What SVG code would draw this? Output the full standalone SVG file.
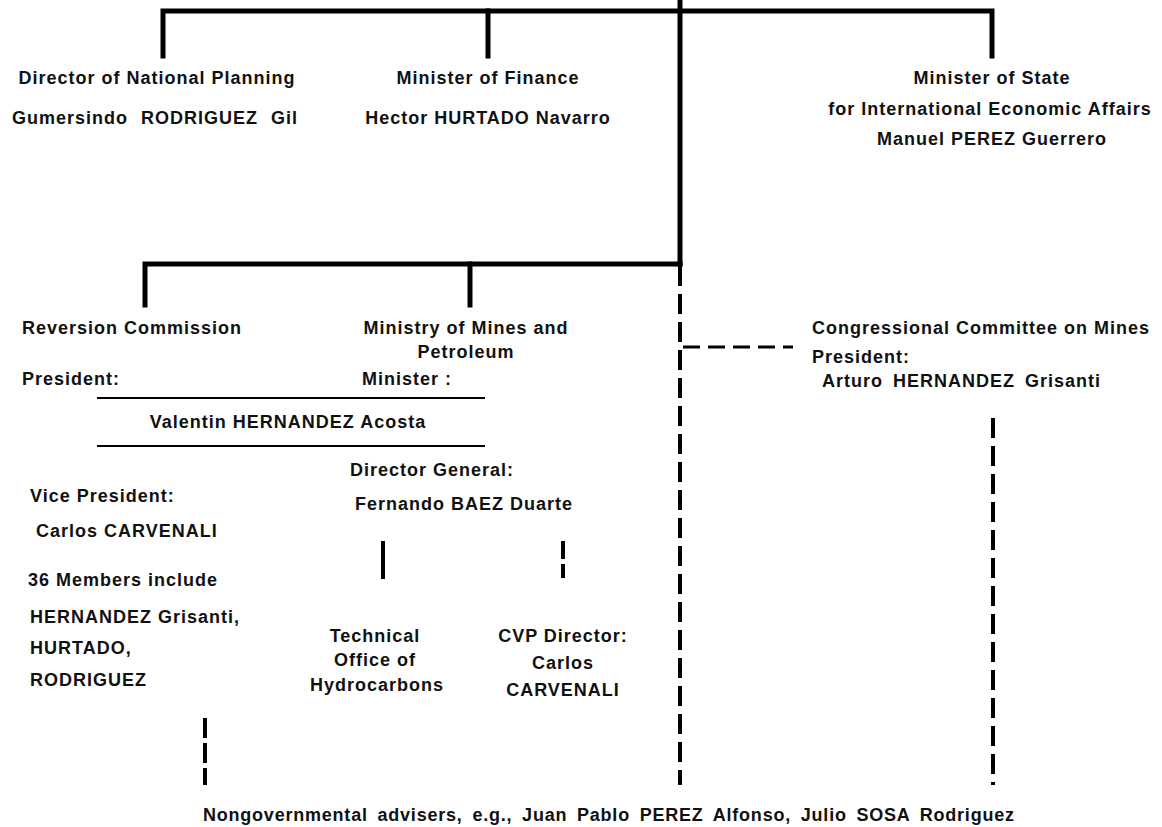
<svg xmlns="http://www.w3.org/2000/svg" width="1162" height="827" viewBox="0 0 1162 827">
  <style>
    text { font-family: "Liberation Sans", Arial, sans-serif; font-size: 18px; font-weight: bold; fill: #111; letter-spacing: 1px; }
    .m { text-anchor: middle; }
    .solid { stroke: #000; stroke-width: 5; fill: none; stroke-linecap: square; }
    .thin { stroke: #000; stroke-width: 2; fill: none; }
    .dash { stroke: #000; stroke-width: 4; fill: none; stroke-dasharray: 20 8; }
    .dashh { stroke: #000; stroke-width: 3; fill: none; stroke-dasharray: 17 8; }
  </style>
  <rect width="1162" height="827" fill="#fff"/>

  <g id="connectors">
    <!-- top bracket -->
    <path class="solid" d="M163 56 V11 H992 V56"/>
    <path class="solid" d="M488 11 V56"/>
    <path class="solid" d="M680 0 V264"/>
    <!-- second bracket -->
    <path class="solid" d="M145 305 V264 H680"/>
    <path class="solid" d="M470 264 V305"/>
    <!-- dashed links -->
    <path class="dash" d="M680 266 V785"/>
    <path class="dashh" d="M683 347 H793"/>
    <path class="dash" d="M993 418 V785"/>
    <path class="dash" d="M205 718 V785" style="stroke-dasharray:20 5"/>
    <!-- under Director General -->
    <path class="solid" d="M383 543 V577" style="stroke-width:4"/>
    <path class="dash" d="M563 541 V578" style="stroke-dasharray:18 5"/>
    <!-- rules around shared president -->
    <path class="thin" d="M97 398 H485"/>
    <path class="thin" d="M97 446 H485"/>
  </g>

  <g id="national-planning">
    <text x="157" y="84" class="m">Director of National Planning</text>
    <text x="155" y="124" class="m" style="word-spacing:7px">Gumersindo RODRIGUEZ Gil</text>
  </g>
  <g id="finance">
    <text x="488" y="84" class="m">Minister of Finance</text>
    <text x="488" y="124" class="m">Hector HURTADO Navarro</text>
  </g>
  <g id="state-international">
    <text x="992" y="84" class="m">Minister of State</text>
    <text x="990" y="115" class="m">for International Economic Affairs</text>
    <text x="992" y="145" class="m">Manuel PEREZ Guerrero</text>
  </g>

  <g id="reversion-commission">
    <text x="22" y="334">Reversion Commission</text>
    <text x="22" y="385">President:</text>
    <text x="30" y="502">Vice President:</text>
    <text x="36" y="537">Carlos CARVENALI</text>
    <text x="28" y="586">36 Members include</text>
    <text x="30" y="623">HERNANDEZ Grisanti,</text>
    <text x="30" y="654">HURTADO,</text>
    <text x="30" y="686">RODRIGUEZ</text>
  </g>

  <g id="shared-president">
    <text x="288" y="428" class="m">Valentin HERNANDEZ Acosta</text>
  </g>

  <g id="mines-petroleum">
    <text x="466" y="334" class="m">Ministry of Mines and</text>
    <text x="466" y="358" class="m">Petroleum</text>
    <text x="362" y="385">Minister :</text>
    <text x="350" y="476">Director General:</text>
    <text x="355" y="510">Fernando BAEZ Duarte</text>
  </g>

  <g id="technical-office">
    <text x="375" y="642" class="m">Technical</text>
    <text x="375" y="666" class="m">Office of</text>
    <text x="377" y="691" class="m">Hydrocarbons</text>
  </g>

  <g id="cvp">
    <text x="563" y="642" class="m">CVP Director:</text>
    <text x="563" y="669" class="m">Carlos</text>
    <text x="563" y="696" class="m">CARVENALI</text>
  </g>

  <g id="congressional-committee">
    <text x="812" y="334">Congressional Committee on Mines</text>
    <text x="812" y="363">President:</text>
    <text x="822" y="387" style="word-spacing:4px">Arturo HERNANDEZ Grisanti</text>
  </g>

  <g id="advisers">
    <text x="203" y="821" textLength="812" style="word-spacing:4px">Nongovernmental advisers,  e.g.,  Juan Pablo PEREZ Alfonso,  Julio SOSA Rodriguez</text>
  </g>
</svg>
